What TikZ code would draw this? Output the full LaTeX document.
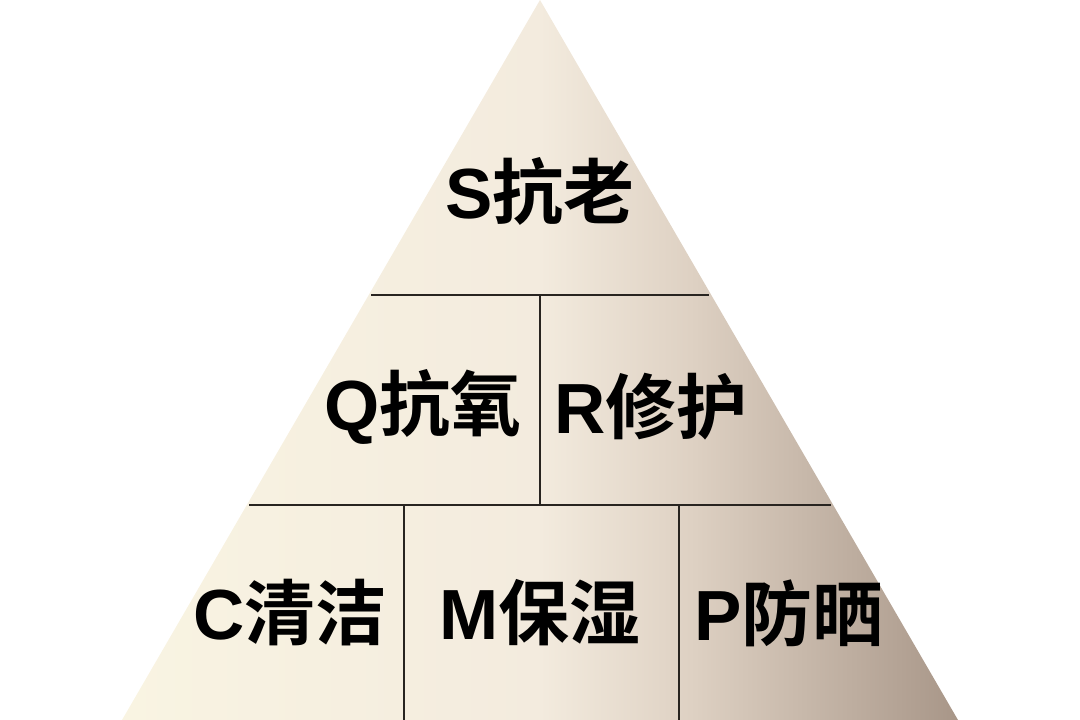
\documentclass[tikz,border=0pt]{standalone}
\usepackage{fontspec}
\setmainfont{Liberation Sans}
\newfontfamily\cjkbold{Noto Sans CJK SC}[UprightFont=* Bold]
\usetikzlibrary{positioning}
\definecolor{creamleft}{RGB}{249,244,226}
\definecolor{creammid}{RGB}{243,235,222}
\definecolor{tanmid}{RGB}{222,209,195}
\definecolor{brownright}{RGB}{168,150,136}
\definecolor{divider}{RGB}{40,36,32}
\pgfdeclarehorizontalshading{pyramidshade}{100bp}{%
  color(0bp)=(creamleft); color(25bp)=(creamleft); color(50bp)=(creammid);
  color(59bp)=(tanmid); color(75bp)=(brownright); color(100bp)=(brownright)}
\newcommand{\tier}[2]{{\bfseries #1}{\cjkbold #2}}
\tikzset{
  pyramid/.style={shading=pyramidshade, draw=none},
  split/.style={draw=divider, line width=2pt},
  vsplit/.style={draw=divider, line width=1.5pt},
  tierlbl/.style={font=\fontsize{71}{71}\selectfont, inner sep=0pt, text=black, anchor=center}
}

\begin{document}
\begin{tikzpicture}[x=1pt, y=-1pt]
\useasboundingbox (0,0) rectangle (1080,720);
% pyramid body
\coordinate (apex) at (540,0);
\coordinate (bl) at (122,720);
\coordinate (br) at (958,720);
\shade[pyramid] (apex) -- (br) -- (bl) -- cycle;
% dividers
\coordinate (r1l) at (371,295);
\coordinate (r1r) at (709,295);
\coordinate (r2l) at (249,505);
\coordinate (r2r) at (831,505);
\coordinate (v1t) at (540,295);
\coordinate (v1b) at (540,505);
\coordinate (v2t) at (404,505);
\coordinate (v2b) at (404,720);
\coordinate (v3t) at (679,505);
\coordinate (v3b) at (679,720);
\draw[split] (r1l) -- (r1r);
\draw[split] (r2l) -- (r2r);
\draw[vsplit] (v1t) -- (v1b);
\draw[vsplit] (v2t) -- (v2b);
\draw[vsplit] (v3t) -- (v3b);
% labels
\node[tierlbl] (s) at (540,191) {\tier{S}{抗老}};
\node[tierlbl] (q) at (423,407) {\tier{Q}{抗氧}};
\node[tierlbl] (r) at (651,407) {\tier{R}{修护}};
\node[tierlbl] (c) at (290,613) {\tier{C}{清洁}};
\node[tierlbl] (m) at (540,613) {\tier{M}{保湿}};
\node[tierlbl] (p) at (789,613) {\tier{P}{防晒}};
\end{tikzpicture}
\end{document}
